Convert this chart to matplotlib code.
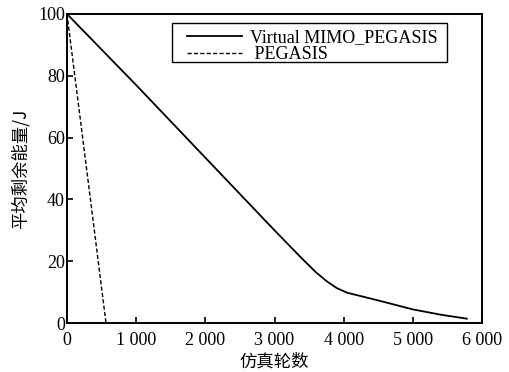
import matplotlib
matplotlib.use("Agg")
import matplotlib.pyplot as plt
from matplotlib.patches import Rectangle

plt.rcParams['font.family'] = ['Liberation Serif', 'Noto Sans CJK SC']

mimo_x = [0, 1000, 2000, 3000, 3400, 3600, 3750, 3900, 4050, 4500, 5000, 5400, 5780]
mimo_y = [100, 77, 53.5, 30, 20.8, 16.4, 13.6, 11.3, 9.8, 7.3, 4.4, 2.7, 1.4]
peg_x = [0, 280, 564]
peg_y = [100, 50.5, 0]
xticks = [0, 1000, 2000, 3000, 4000, 5000, 6000]
xticklabels = ['0', '1 000', '2 000', '3 000', '4 000', '5 000', '6 000']
yticks = [0, 20, 40, 60, 80, 100]
yticklabels = ['0', '20', '40', '60', '80', '100']

fig = plt.figure(figsize=(5.09, 3.72), dpi=100)
ax = fig.add_axes([0.1316, 0.1317, 0.8154, 0.8307])
ax.plot(mimo_x, mimo_y, color='black', lw=1.3, label='Virtual MIMO_PEGASIS')
ax.plot(peg_x, peg_y, color='black', lw=1.0, ls=(0, (3, 1.6)), label=' PEGASIS')
ax.set_xlim(0, 6000)
ax.set_ylim(0, 100)
ax.set_xticks(xticks)
ax.set_xticklabels(xticklabels, fontsize=13)
ax.set_yticks(yticks)
ax.set_yticklabels(yticklabels, fontsize=13)
ax.tick_params(direction='in', length=4, width=1.2, top=False, right=False)
ax.tick_params(axis='x', pad=6.5)
ax.tick_params(axis='y', pad=1.5)
for s in ax.spines.values():
    s.set_linewidth(1.4)
ax.set_xlabel('仿真轮数', fontsize=12.5, family=['Noto Sans CJK SC'], labelpad=2.5)
ax.set_ylabel('平均剩余能量/J', fontsize=12.5, family=['Noto Sans CJK SC'], labelpad=6)

leg = ax.legend(loc='upper left', bbox_to_anchor=(0.2892, 0.952), borderaxespad=0,
                fontsize=13, frameon=False, handlelength=3.05,
                borderpad=0, labelspacing=0.0, handletextpad=0.45)
ax.add_patch(Rectangle((0.253, 0.8447), 0.9157 - 0.253, 0.971 - 0.8447,
                       transform=ax.transAxes, fill=False, edgecolor='black',
                       lw=1.0, zorder=4))
fig.savefig('out.png', dpi=100)
